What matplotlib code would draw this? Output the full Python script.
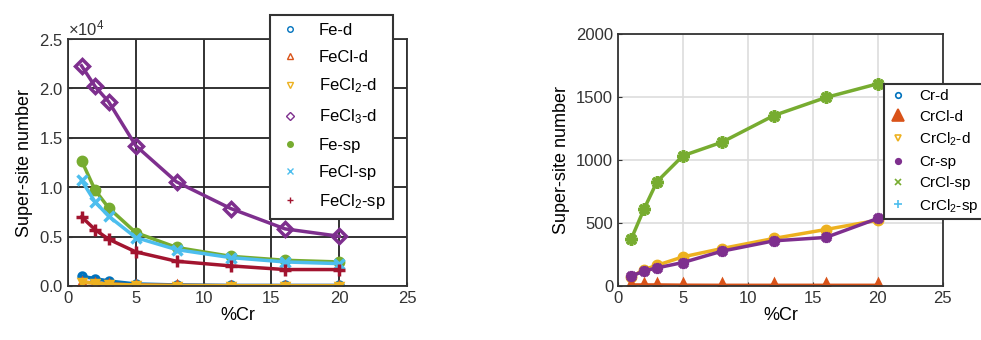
import numpy as np
import matplotlib
matplotlib.use('Agg')
import matplotlib.pyplot as plt
from matplotlib.lines import Line2D
from matplotlib.ticker import ScalarFormatter

plt.rcParams['font.family'] = ['Liberation Sans', 'DejaVu Sans']
plt.rcParams['mathtext.fontset'] = 'custom'
plt.rcParams['mathtext.rm'] = 'Liberation Sans'
plt.rcParams['mathtext.it'] = 'Liberation Sans'

#MATLAB default colours
blue = '#0072BD'
orange = '#D95319'
yellow = '#EDB120'
purple = '#7E2F8E'
green = '#77AC30'
cyan = '#4DBEEE'
red = '#A2142F'

#x values (%Cr)
pct_cr = [1, 2, 3, 5, 8, 12, 16, 20]

#left panel: Fe sites
fe_d = [980, 740, 500, 200, 100, 50, 50, 50]
fecl_d = [400, 300, 200, 100, 50, 30, 30, 30]
fecl2_d = [380, 280, 180, 90, 40, 20, 20, 20]
fecl3_d = [22300, 20200, 18650, 14200, 10540, 7840, 5780, 5030]
fe_sp = [12700, 9700, 7900, 5400, 3900, 3000, 2600, 2430]
fecl_sp = [10700, 8500, 7060, 4900, 3680, 2870, 2430, 2260]
fecl2_sp = [7000, 5700, 4730, 3450, 2500, 2030, 1660, 1660]

#right panel: Cr sites
cr_d = [2, 2, 2, 2, 2, 2, 2, 2]
crcl_d = [8, 8, 8, 6, 5, 5, 5, 5]
crcl2_d = [70, 130, 164, 231, 297, 377, 448, 522]
cr_sp = [77, 119, 143, 186, 276, 358, 385, 536]
crcl_sp = [369, 610, 828, 1034, 1141, 1353, 1496, 1605]
crcl2_sp = [3, 3, 3, 3, 3, 3, 3, 3]

#(values, colour, plot marker, marker size, label, filled)
left_series = [
    (fe_d, blue, 'o', 5, 'Fe-d', False),
    (fecl_d, orange, '^', 5, 'FeCl-d', False),
    (fecl2_d, yellow, 'v', 5, r'FeCl$_2$-d', False),
    (fecl3_d, purple, 'D', 7, r'FeCl$_3$-d', False),
    (fe_sp, green, 'o', 6, 'Fe-sp', True),
    (fecl_sp, cyan, 'x', 7, 'FeCl-sp', True),
    (fecl2_sp, red, '+', 9, r'FeCl$_2$-sp', True),
]
right_series = [
    (cr_d, blue, 'o', 3, 'Cr-d', False),
    (crcl2_sp, cyan, '+', 3, r'CrCl$_2$-sp', True),
    (crcl2_d, yellow, 'o', 6, r'CrCl$_2$-d', True),
    (crcl_d, orange, '^', 7, 'CrCl-d', True),
    (cr_sp, purple, (8, 2, 0), 8, 'Cr-sp', True),
    (crcl_sp, green, (8, 2, 0), 9, 'CrCl-sp', True),
]
#legend order and legend markers
right_labels = ['Cr-d', 'CrCl-d', r'CrCl$_2$-d', 'Cr-sp', 'CrCl-sp', r'CrCl$_2$-sp']
right_cols = [blue, orange, yellow, purple, green, cyan]
right_leg = [('o', False, 4), ('^', True, 8), ('v', False, 5), ('o', True, 4), ('x', True, 4), ('+', True, 6)]

fig = plt.figure(figsize=(9.81, 3.4), dpi=100)
ax1 = fig.add_axes([0.0693, 0.159, 0.3457, 0.726])
ax2 = fig.add_axes([0.630, 0.159, 0.331, 0.741])

#left panel
handles = []
for vals, col, mk, ms, lab, filled in left_series:
    ax1.plot(pct_cr, vals, color=col, lw=2.5, marker=mk, ms=ms,
             mew=2.5, mfc=col if filled else 'none', mec=col)
    handles.append(Line2D([], [], ls='none', marker=mk, color=col, ms=4,
                          mew=1, mfc=col if filled else 'none'))
ax1.set_xlim(0, 25)
ax1.set_ylim(0, 25000)
ax1.set_xticks(np.arange(0, 26, 5))
ax1.set_yticks(np.arange(0, 25001, 5000))
fmt = ScalarFormatter(useMathText=True)
fmt.set_powerlimits((0, 0))
ax1.yaxis.set_major_formatter(fmt)
ax1.grid(True, color='#222222', lw=1.3)
ax1.set_axisbelow(True)
ax1.set_xlabel('%Cr', fontsize=13, labelpad=1)
ax1.set_ylabel('Super-site number', fontsize=13, labelpad=4)
leg1 = ax1.legend(handles, [s[4] for s in left_series], loc='upper left',
                  bbox_to_anchor=(0.595, 1.097), fontsize=12, frameon=True,
                  fancybox=False, edgecolor='#333333', framealpha=1,
                  labelspacing=0.72, handlelength=1.5, borderpad=0.45,
                  handletextpad=1.0, borderaxespad=0)
leg1.get_frame().set_linewidth(1.5)

#right panel
for vals, col, mk, ms, lab, filled in right_series:
    ax2.plot(pct_cr, vals, color=col, lw=2.5, marker=mk, ms=ms,
             mew=2.5, mfc=col if filled else 'none', mec=col)
handles2 = []
for col, (lmk, lfill, lms) in zip(right_cols, right_leg):
    handles2.append(Line2D([], [], ls='none', marker=lmk, color=col, ms=lms,
                           mew=1.2, mfc=col if lfill else 'none'))
ax2.set_xlim(0, 25)
ax2.set_ylim(0, 2000)
ax2.set_xticks(np.arange(0, 26, 5))
ax2.set_yticks(np.arange(0, 2001, 500))
ax2.grid(True, color='#dddddd', lw=1.2)
ax2.set_axisbelow(True)
ax2.set_xlabel('%Cr', fontsize=13, labelpad=1)
ax2.set_ylabel('Super-site number', fontsize=13, labelpad=4)
leg2 = ax2.legend(handles2, right_labels, loc='upper left',
                  bbox_to_anchor=(0.82, 0.80), fontsize=11, frameon=True,
                  fancybox=False, edgecolor='#333333', framealpha=1,
                  labelspacing=0.45, handlelength=1.2, borderpad=0.3,
                  handletextpad=0.8, borderaxespad=0)
leg2.get_frame().set_linewidth(1.5)

for ax in (ax1, ax2):
    ax.tick_params(direction='in', labelsize=12, colors='#333333', length=3)
    for sp in ax.spines.values():
        sp.set_color('#333333')
        sp.set_linewidth(1.3)
ax1.yaxis.get_offset_text().set_fontsize(12)

plt.savefig('out.png', dpi=100)
